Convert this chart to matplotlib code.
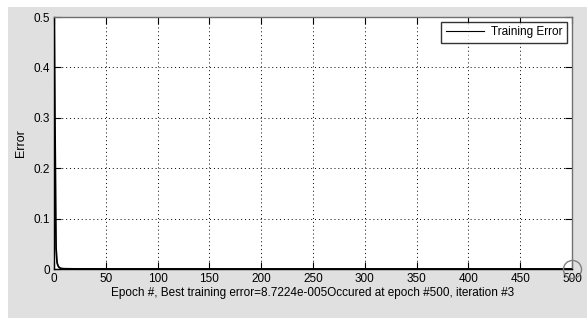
import matplotlib
matplotlib.use("Agg")
import matplotlib.pyplot as plt
from matplotlib.patches import Rectangle
from matplotlib import font_manager

# Data
epochs = [0, 1, 2, 3, 4, 5, 6, 7, 8, 10, 15, 20, 50, 100, 200, 300, 400, 500]
errors = [0.55, 0.27, 0.04, 0.012, 0.006, 0.003, 0.0018, 0.0012, 0.0008, 0.0005,
          0.0003, 0.0002, 0.00015, 0.00012, 0.0001, 0.000095, 0.00009, 0.000087224]
best_epoch = [500]
best_error = [0.000087224]
xticks = [0, 50, 100, 150, 200, 250, 300, 350, 400, 450, 500]
yticks = [0, 0.1, 0.2, 0.3, 0.4, 0.5]
xlabel = "Epoch #, Best training error=8.7224e-005Occured at epoch #500, iteration #3"
ylabel = "Error"
legend_label = "Training Error"

names = {f.name for f in font_manager.fontManager.ttflist}
fam = "Liberation Sans Narrow" if "Liberation Sans Narrow" in names else "Liberation Sans"
plt.rcParams['font.family'] = [fam, 'DejaVu Sans']
fs = 10 if fam == "Liberation Sans Narrow" else 8.5

W, H = 587, 318
fig = plt.figure(figsize=(W / 100, H / 100), dpi=100, facecolor="white")
fig.patches.append(Rectangle((8 / W, 0), 1 - 8 / W, 1 - 7 / H, transform=fig.transFigure,
                             facecolor="#e0e0e0", edgecolor="none", zorder=-10))

ax = fig.add_axes([54 / W, (H - 269) / H, (572 - 54) / W, (269 - 17) / H])
ax.set_facecolor("white")
ax.plot(epochs, errors, color="black", lw=1.3, label=legend_label, clip_on=True)
ax.plot(best_epoch, best_error, marker="o", ms=13, mfc="none", mec="#808080",
        mew=1.0, ls="none", clip_on=False, zorder=5)

ax.set_xlim(0, 500)
ax.set_ylim(0, 0.5)
ax.set_xticks(xticks)
ax.set_yticks(yticks)
ax.set_xticklabels([str(t) for t in xticks], fontsize=fs)
ax.set_yticklabels(["0", "0.1", "0.2", "0.3", "0.4", "0.5"], fontsize=fs)
ax.tick_params(direction="in", length=5, width=0.8, top=True, right=True, pad=3)
ax.grid(True, color="black", ls=(0, (1, 3)), lw=0.7)

for s in ["left", "bottom"]:
    ax.spines[s].set_color("black")
    ax.spines[s].set_linewidth(1.0)
for s in ["top", "right"]:
    ax.spines[s].set_color("#707070")
    ax.spines[s].set_linewidth(1.0)

ax.set_xlabel(xlabel, fontsize=fs, labelpad=1)
ax.set_ylabel(ylabel, fontsize=fs + 0.5, labelpad=4.5)

leg = ax.legend(loc="upper right", fontsize=fs, frameon=True, fancybox=False,
                handlelength=3.2, borderaxespad=0.4, borderpad=0.4, handletextpad=0.6)
leg.get_frame().set_edgecolor("black")
leg.get_frame().set_linewidth(1.0)
for l in leg.get_lines():
    l.set_linewidth(0.8)

fig.savefig("out.png", dpi=100, facecolor=fig.get_facecolor())
